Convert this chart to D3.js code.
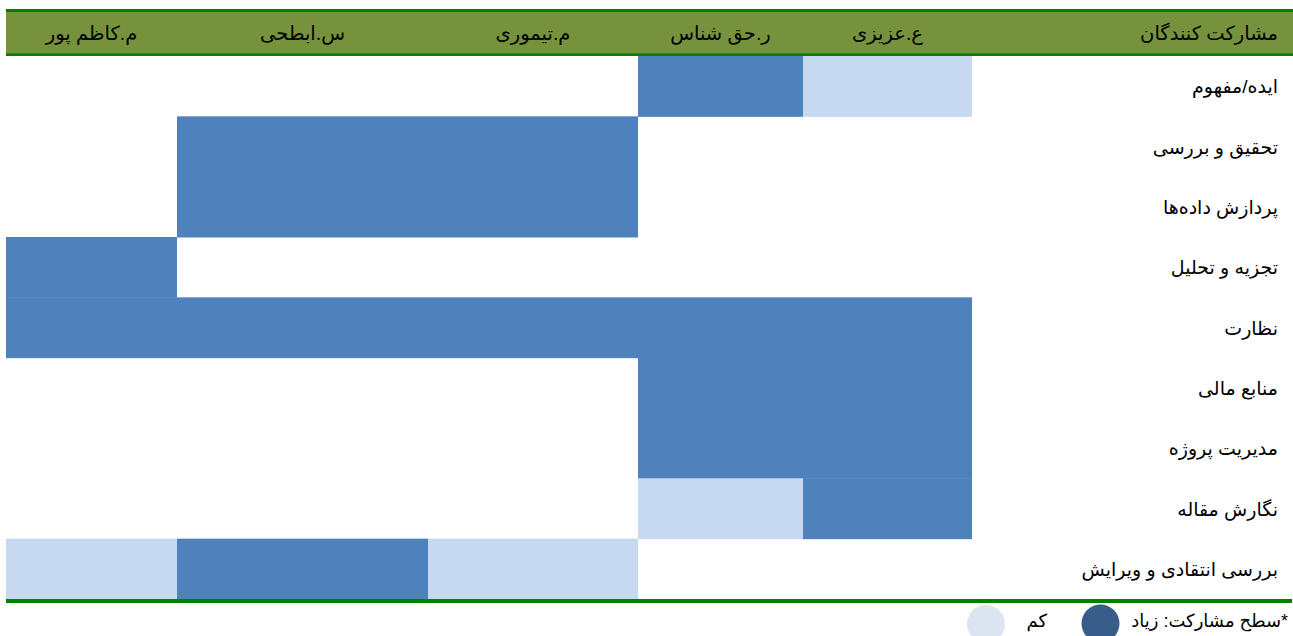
<!DOCTYPE html>
<html lang="fa">
<head>
<meta charset="utf-8">
<script src="https://cdn.jsdelivr.net/npm/d3@7"></script>
<style>
  html, body { margin: 0; padding: 0; background: #fff; }
  svg { display: block; }
  text { font-family: Arial, "Liberation Sans", "DejaVu Sans", sans-serif; fill: #000; }
</style>
</head>
<body>
<svg id="chart" width="1293" height="636"></svg>
<script>
// ---- data ----
const participants = ["ع.عزیزی", "ر.حق شناس", "م.تیموری", "س.ابطحی", "م.کاظم پور"];
const headerLabel = "مشارکت کنندگان";
const tasks = [
  "ایده/مفهوم",
  "تحقیق و بررسی",
  "پردازش داده‌ها",
  "تجزیه و تحلیل",
  "نظارت",
  "منابع مالی",
  "مدیریت پروژه",
  "نگارش مقاله",
  "بررسی انتقادی و ویرایش"
];
// participation level: 2 = زیاد (high), 1 = کم (low), 0 = none
// columns follow participants order
const levels = [
  [1, 2, 0, 0, 0],
  [0, 0, 2, 2, 0],
  [0, 0, 2, 2, 0],
  [0, 0, 0, 0, 2],
  [2, 2, 2, 2, 2],
  [2, 2, 0, 0, 0],
  [2, 2, 0, 0, 0],
  [2, 1, 0, 0, 0],
  [0, 0, 1, 2, 1]
];
const legendTitle = "*سطح مشارکت: زیاد";
const legendLow = "کم";

// ---- layout (not data) ----
const colWidths = [169, 165, 210, 251, 171]; // relative widths of participant columns, right to left
const W = 1293, H = 636;
const gridRight = 972, gridLeft = 6;
const headerTop = 9, headerBottom = 56, gridBottom = 599;
const colors = {2: "#4F81BD", 1: "#C6D9F0"};

const svg = d3.select("#chart");

const cum = [0];
colWidths.forEach(w => cum.push(cum[cum.length - 1] + w));
const x = d3.scaleLinear().domain([0, cum[cum.length - 1]]).range([gridRight, gridLeft]);
const y = d3.scaleBand().domain(tasks).range([headerBottom, gridBottom]).padding(0);

// header band
svg.append("rect").attr("x", gridLeft).attr("y", headerTop + 3).attr("width", W - gridLeft).attr("height", headerBottom - headerTop - 5)
  .attr("fill", "#76923C");
svg.append("rect").attr("x", gridLeft).attr("y", headerTop).attr("width", W - gridLeft).attr("height", 3).attr("fill", "#008000");
svg.append("rect").attr("x", gridLeft).attr("y", headerBottom - 2.5).attr("width", W - gridLeft).attr("height", 2.5).attr("fill", "#008000");

// cells
const cells = [];
levels.forEach((row, ri) => row.forEach((v, ci) => { if (v > 0) cells.push({task: tasks[ri], col: ci, v}); }));
svg.append("g").selectAll("rect").data(cells).join("rect")
  .attr("x", d => x(cum[d.col + 1]))
  .attr("y", d => y(d.task))
  .attr("width", d => x(cum[d.col]) - x(cum[d.col + 1]))
  .attr("height", y.bandwidth() + 0.5)
  .attr("fill", d => colors[d.v]);

// bottom line
svg.append("rect").attr("x", gridLeft).attr("y", gridBottom).attr("width", W - gridLeft - 1).attr("height", 4).attr("fill", "#008000");

// header labels
svg.append("g").selectAll("text").data(participants).join("text")
  .attr("x", (d, i) => (x(cum[i]) + x(cum[i + 1])) / 2)
  .attr("y", 40)
  .attr("text-anchor", "middle")
  .attr("direction", "rtl")
  .style("font-size", "19.5px")
  .text(d => d);
svg.append("text").attr("x", 1278).attr("y", 40)
  .attr("direction", "rtl").attr("text-anchor", "start")
  .style("font-size", "19.5px")
  .text(headerLabel);

// row labels
svg.append("g").selectAll("text").data(tasks).join("text")
  .attr("x", 1278)
  .attr("y", d => y(d) + y.bandwidth() / 2 + 7)
  .attr("direction", "rtl").attr("text-anchor", "start")
  .style("font-size", "19px")
  .text(d => d);

// legend
svg.append("text").attr("x", 1288).attr("y", 627)
  .attr("direction", "rtl").attr("text-anchor", "start")
  .style("font-size", "18px")
  .text(legendTitle);
svg.append("circle").attr("cx", 1100.5).attr("cy", 623.5).attr("r", 19).attr("fill", "#385D8A");
svg.append("text").attr("x", 1047).attr("y", 627)
  .attr("direction", "rtl").attr("text-anchor", "start")
  .style("font-size", "18px")
  .text(legendLow);
svg.append("circle").attr("cx", 986).attr("cy", 624).attr("r", 19).attr("fill", "#DCE6F2");
</script>
</body>
</html>
